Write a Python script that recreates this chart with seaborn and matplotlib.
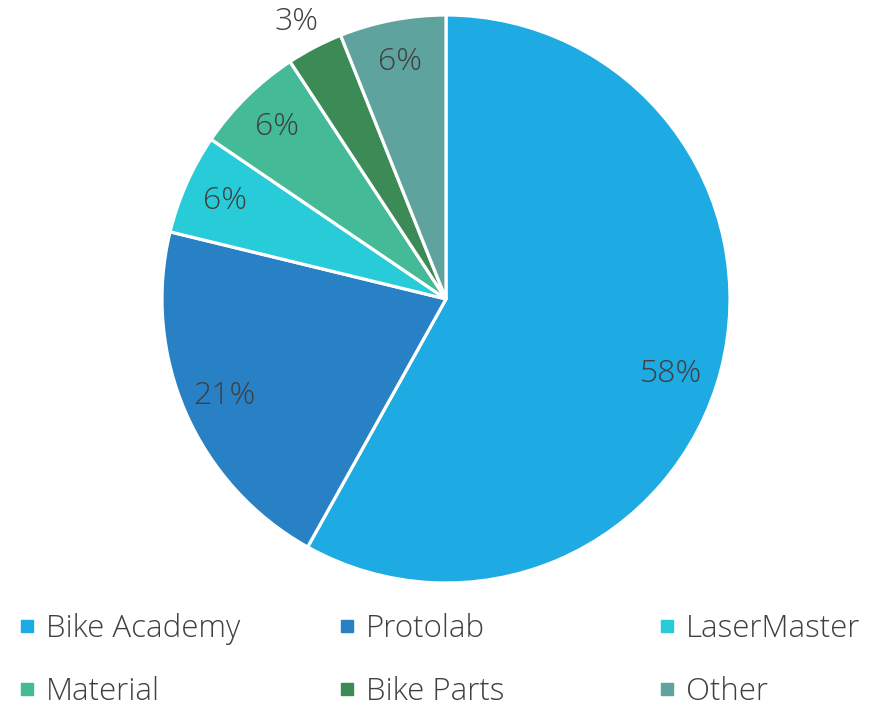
import matplotlib
matplotlib.use("Agg")
import matplotlib.pyplot as plt
import seaborn as sns
from matplotlib.lines import Line2D

categories = ["Bike Academy", "Protolab", "LaserMaster", "Material", "Bike Parts", "Other"]
values = [58.1, 20.7, 5.7, 6.25, 3.2, 6.05]
colors = ["#1EAAE2", "#2880C5", "#28CCD8", "#44BA96", "#3C8A55", "#5FA39E"]

sns.set_theme(style="white")
plt.rcParams["font.family"] = ["Open Sans", "DejaVu Sans"]
plt.rcParams["font.weight"] = "light"
TXT = "#404040"

W, H = 871, 708
fig = plt.figure(figsize=(W / 100, H / 100), dpi=100)
palette = sns.color_palette(colors)

cx, cy, r = 446, 299, 284
ax = fig.add_axes([(cx - r) / W, (H - cy - r) / H, 2 * r / W, 2 * r / H])
wedges, texts, autotexts = ax.pie(
    values, colors=palette, startangle=90, counterclock=False,
    autopct=lambda p: f"{p:.0f}%", pctdistance=0.85,
    wedgeprops=dict(edgecolor="white", linewidth=2.3),
    textprops=dict(color=TXT, fontsize=23, fontweight="light"),
)
# small slice label sits outside the pie
autotexts[4].set_position((-0.525, 0.975))
x0, y0 = autotexts[0].get_position()
autotexts[0].set_position((x0 - 0.03, y0 - 0.05))
ax.set_xlim(-1, 1)
ax.set_ylim(-1, 1)
ax.set_aspect("equal")
ax.axis("off")

col_x = [18, 338, 658]
top_y = 613
for c in range(3):
    handles = []
    for rrow in range(2):
        i = rrow * 3 + c
        handles.append(Line2D([], [], marker="s", linestyle="none", markersize=9,
                              markerfacecolor=palette[i], markeredgecolor=palette[i],
                              label=categories[i]))
    leg = fig.legend(handles=handles, loc="upper left",
                     bbox_to_anchor=(col_x[c] / W, 1 - top_y / H),
                     frameon=False, labelcolor=TXT,
                     prop=dict(family=["Open Sans", "DejaVu Sans"], weight="light", size=22.5),
                     handlelength=0.55, handletextpad=0.35, labelspacing=1.0,
                     borderpad=0, borderaxespad=0)

fig.savefig("out.png", dpi=100, facecolor="white")
